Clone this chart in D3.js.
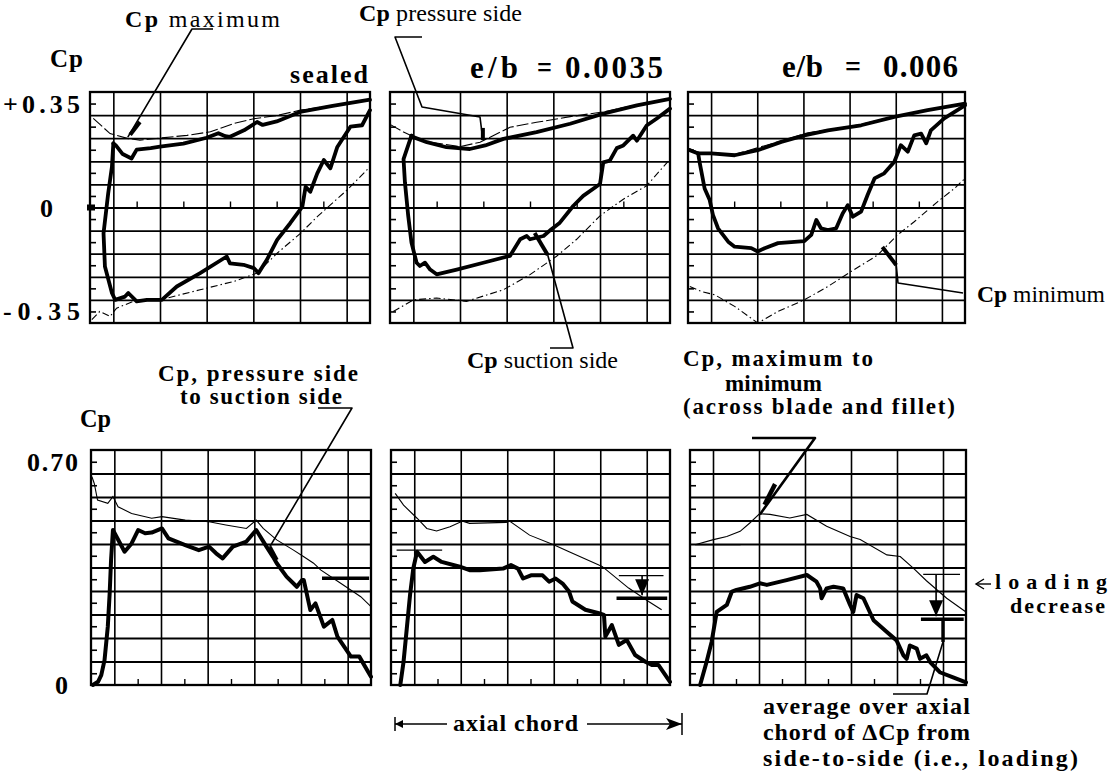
<!DOCTYPE html>
<html>
<head>
<meta charset="utf-8">
<script src="https://cdn.jsdelivr.net/npm/d3@7"></script>
<style>
  body { margin: 0; background: #fff; }
  svg text { font-family: "Liberation Serif", "Times New Roman", Times, "DejaVu Serif", serif; fill: #000; }
</style>
</head>
<body>
<div id="chart"></div>
<script>
// x = position across the frame in grid units (0..6), y = Cp

// ---- top row: Cp on pressure side / suction side, plus max and min envelopes
var sealedPressure = [[0.50,0.216],[0.55,0.21],[0.70,0.18],[0.89,0.165],[1.00,0.195],[1.30,0.2],[1.50,0.205],[2.00,0.215],[2.50,0.235],[2.75,0.25],[2.90,0.24],[3.00,0.238],[3.30,0.26],[3.58,0.288],[3.70,0.278],[4.00,0.29],[4.50,0.322],[5.20,0.342],[6.00,0.363]];
var sealedSuction = [[0.50,0.216],[0.47,0.137],[0.39,0.048],[0.29,-0.087],[0.32,-0.199],[0.47,-0.288],[0.54,-0.311],[0.75,-0.300],[0.82,-0.288],[1.00,-0.316],[1.22,-0.311],[1.54,-0.311],[1.86,-0.266],[2.36,-0.221],[2.93,-0.165],[3.00,-0.188],[3.29,-0.193],[3.51,-0.204],[3.61,-0.221],[3.79,-0.176],[4.01,-0.109],[4.29,-0.053],[4.55,0.003],[4.62,0.07],[4.72,0.053],[4.87,0.115],[5.01,0.16],[5.15,0.132],[5.30,0.204],[5.58,0.272],[5.83,0.277],[6.00,0.328]];
var sealedMax = [[0.07,0.30],[0.43,0.249],[0.82,0.232],[1.07,0.227],[2.08,0.243],[2.58,0.255],[3.08,0.283],[3.51,0.299],[4.01,0.31],[4.51,0.328],[5.23,0.344],[6.00,0.363]];
var sealedMin = [[0.04,-0.378],[0.21,-0.35],[0.43,-0.367],[0.57,-0.339],[0.93,-0.316],[1.65,-0.305],[2.36,-0.277],[3.08,-0.249],[3.58,-0.221],[4.01,-0.154],[4.51,-0.087],[4.87,-0.031],[5.51,0.059],[6.00,0.137]];

var gap1Pressure = [[0.46,0.242],[0.50,0.237],[0.79,0.22],[1.21,0.203],[1.71,0.197],[2.04,0.209],[2.43,0.231],[3.14,0.254],[3.86,0.282],[4.57,0.316],[5.29,0.344],[6.00,0.366]];
var gap1Suction = [[0.46,0.242],[0.29,0.163],[0.32,0.085],[0.39,-0.028],[0.46,-0.118],[0.57,-0.186],[0.64,-0.197],[0.75,-0.186],[0.86,-0.209],[1.00,-0.225],[1.43,-0.209],[2.00,-0.186],[2.57,-0.163],[2.79,-0.107],[2.93,-0.096],[3.00,-0.107],[3.29,-0.096],[3.46,-0.073],[3.64,-0.051],[3.93,0.006],[4.14,0.039],[4.50,0.079],[4.57,0.152],[4.71,0.158],[4.86,0.20],[5.00,0.209],[5.07,0.22],[5.21,0.242],[5.29,0.225],[5.50,0.276],[5.71,0.299],[6.00,0.333]];
var gap1Max = [[0.00,0.28],[0.29,0.254],[0.46,0.242],[0.79,0.222],[1.50,0.205],[1.93,0.22],[2.57,0.27],[3.14,0.287],[3.86,0.306],[4.57,0.322],[5.29,0.346],[6.00,0.368]];
var gap1Min = [[0.07,-0.35],[0.50,-0.311],[1.00,-0.305],[1.64,-0.316],[2.43,-0.277],[3.00,-0.226],[3.57,-0.164],[4.00,-0.107],[4.50,-0.028],[5.00,0.028],[5.50,0.073],[6.00,0.163]];

var gap2Pressure = [[0.04,0.193],[0.22,0.182],[0.50,0.182],[1.01,0.176],[1.51,0.193],[2.02,0.221],[2.52,0.243],[3.03,0.26],[3.75,0.277],[4.47,0.305],[5.19,0.328],[6.00,0.35]];
var gap2Suction = [[0.22,0.182],[0.25,0.154],[0.36,0.064],[0.47,0.025],[0.54,-0.025],[0.65,-0.07],[0.87,-0.115],[1.01,-0.132],[1.37,-0.137],[1.51,-0.148],[1.66,-0.137],[1.95,-0.12],[2.52,-0.113],[2.67,-0.092],[2.78,-0.042],[2.88,-0.07],[3.03,-0.076],[3.21,-0.07],[3.35,-0.02],[3.46,0.008],[3.57,-0.031],[3.75,-0.014],[3.89,0.042],[4.04,0.098],[4.25,0.115],[4.47,0.154],[4.61,0.21],[4.76,0.188],[4.90,0.243],[5.05,0.249],[5.16,0.216],[5.26,0.26],[5.55,0.30],[6.00,0.344]];
var gap2Max = [[0.00,0.2],[0.22,0.186],[1.01,0.179],[2.02,0.224],[2.60,0.252],[3.10,0.263],[3.75,0.28],[4.47,0.307],[6.00,0.352]];
var gap2Min = [[0.04,-0.266],[0.29,-0.283],[0.58,-0.294],[1.01,-0.333],[1.51,-0.389],[1.95,-0.35],[2.52,-0.311],[3.03,-0.266],[3.53,-0.216],[4.11,-0.16],[4.54,-0.092],[4.90,-0.048],[5.41,0.02],[5.77,0.064],[6.00,0.098]];

// ---- bottom row: Cp max-to-min (thin) and pressure-to-suction side (thick)
var sealedRange = [[0.02,0.653],[0.07,0.632],[0.14,0.58],[0.36,0.57],[0.47,0.591],[0.58,0.559],[0.87,0.538],[1.30,0.523],[1.52,0.528],[2.02,0.517],[2.53,0.512],[2.89,0.502],[3.33,0.491],[3.54,0.517],[3.69,0.491],[3.98,0.455],[4.34,0.423],[4.56,0.402],[4.77,0.382],[4.92,0.361],[5.35,0.319],[5.78,0.277],[6.00,0.246]];
var sealedLoading = [[0.04,0.0],[0.15,0.01],[0.22,0.031],[0.29,0.078],[0.36,0.183],[0.40,0.287],[0.43,0.392],[0.47,0.486],[0.72,0.418],[0.87,0.444],[1.01,0.486],[1.16,0.476],[1.30,0.478],[1.52,0.491],[1.66,0.46],[2.02,0.439],[2.31,0.423],[2.53,0.434],[2.68,0.413],[2.82,0.397],[3.04,0.434],[3.33,0.45],[3.54,0.486],[3.76,0.434],[3.90,0.402],[3.98,0.382],[4.19,0.34],[4.41,0.308],[4.52,0.329],[4.56,0.329],[4.70,0.235],[4.81,0.256],[4.99,0.183],[5.17,0.204],[5.28,0.152],[5.57,0.089],[5.75,0.089],[6.00,0.026]];
var gap1Range = [[0.09,0.601],[0.27,0.564],[0.56,0.523],[0.77,0.491],[0.98,0.483],[1.27,0.496],[1.54,0.514],[1.69,0.507],[2.48,0.51],[2.55,0.514],[2.98,0.47],[3.51,0.439],[3.83,0.418],[4.47,0.376],[4.54,0.372],[5.11,0.304],[5.54,0.262],[5.82,0.236]];
var gap1Loading = [[0.20,0.0],[0.27,0.073],[0.34,0.178],[0.41,0.283],[0.48,0.366],[0.56,0.418],[0.73,0.386],[0.91,0.402],[1.09,0.386],[1.48,0.371],[1.69,0.36],[1.91,0.36],[2.41,0.365],[2.58,0.376],[2.73,0.365],[2.84,0.334],[3.01,0.344],[3.26,0.344],[3.40,0.324],[3.54,0.334],[3.69,0.318],[3.83,0.293],[3.90,0.262],[4.18,0.236],[4.47,0.225],[4.58,0.22],[4.61,0.152],[4.75,0.188],[4.90,0.126],[5.07,0.141],[5.25,0.094],[5.47,0.073],[5.61,0.063],[5.75,0.063],[6.00,0.01]];
var gap2Range = [[0.11,0.44],[0.51,0.456],[0.80,0.466],[1.09,0.482],[1.30,0.508],[1.51,0.537],[1.74,0.535],[2.17,0.524],[2.54,0.535],[2.97,0.498],[3.48,0.466],[3.70,0.456],[4.28,0.408],[4.57,0.403],[4.86,0.366],[5.14,0.327],[5.58,0.272],[6.00,0.229]];
var gap2Loading = [[0.22,0.0],[0.36,0.072],[0.47,0.135],[0.58,0.229],[0.69,0.24],[0.80,0.251],[0.91,0.293],[1.01,0.298],[1.30,0.308],[1.52,0.319],[1.67,0.314],[2.10,0.329],[2.54,0.345],[2.75,0.324],[2.83,0.303],[2.86,0.272],[2.97,0.303],[3.12,0.308],[3.33,0.303],[3.48,0.251],[3.55,0.229],[3.62,0.282],[3.77,0.272],[3.99,0.203],[4.28,0.166],[4.49,0.14],[4.64,0.093],[4.71,0.082],[4.78,0.124],[4.93,0.114],[5.00,0.082],[5.14,0.093],[5.22,0.072],[5.43,0.04],[5.72,0.024],[6.00,0.008]];

// average loading over the chord (thick bar) and sealed reference (thin bar)
var averageLoading = [0.335, 0.272, 0.206];
var sealedReference = [null, 0.343, 0.347];
var leadingReference = [null, 0.423, 0.44];

var panelTitles = ["sealed", "0.0035", "0.006"];
var topTickValues = [0.35, 0, -0.35];
var topTickLabels = ["+0.35", "0", "-0.35"];
var bottomTickValues = [0.70, 0];
var bottomTickLabels = ["0.70", "0"];

var topSeries = [
  [sealedPressure, sealedSuction, sealedMax, sealedMin],
  [gap1Pressure, gap1Suction, gap1Max, gap1Min],
  [gap2Pressure, gap2Suction, gap2Max, gap2Min]
];
var bottomSeries = [
  [sealedRange, sealedLoading],
  [gap1Range, gap1Loading],
  [gap2Range, gap2Loading]
];

var svg = d3.select("#chart").append("svg")
  .attr("width", 1109)
  .attr("height", 773);

var topCols = [[90, 370], [390, 670], [688, 965]];
var bottomCols = [[91, 371], [391, 670], [690, 966]];

//builds one gridded frame and returns its scales
function makePanel(cols, yTop, yBottom, domain, zeroTicks) {
  var x = d3.scaleLinear().domain([0, 6]).range(cols);
  var y = d3.scaleLinear().domain(domain).range([yBottom, yTop]);
  var g = svg.append("g");
  var w = cols[1] - cols[0], h = yBottom - yTop;
  var step = (domain[1] - domain[0]) / 10;
  var hLines = d3.range(1, 10).map(i => domain[0] + i * step);
  var mids = d3.range(10).map(i => domain[0] + (i + 0.5) * step);

  var hg = g.append("g")
    .attr("transform", `translate(${cols[0]},0)`)
    .call(d3.axisLeft(y).tickValues(hLines).tickSize(-w).tickFormat(""));
  hg.selectAll("line").attr("stroke", "#000").attr("stroke-width", 1.8);

  var vg = g.append("g")
    .attr("transform", `translate(0,${yBottom})`)
    .call(d3.axisBottom(x).tickValues([0.5, 1.5, 2.5, 3.5, 4.5, 5.5]).tickSize(-h).tickFormat(""));
  vg.selectAll("line").attr("stroke", "#000").attr("stroke-width", 1.6);

  var mg = g.append("g")
    .attr("transform", `translate(${cols[0]},0)`)
    .call(d3.axisLeft(y).tickValues(mids).tickSize(-6).tickFormat(""));
  mg.selectAll("line").attr("stroke", "#000").attr("stroke-width", 1.6);

  var tg = g.append("g")
    .attr("transform", `translate(0,${zeroTicks ? y(0) : yBottom})`)
    .call(d3.axisBottom(x).tickValues([1, 2, 3, 4, 5]).tickSize(-6).tickFormat(""));
  tg.selectAll("line").attr("stroke", "#000").attr("stroke-width", 1.4);

  g.selectAll(".domain").remove();

  g.append("rect")
    .attr("x", cols[0]).attr("y", yTop)
    .attr("width", w).attr("height", h)
    .attr("fill", "none").attr("stroke", "#000").attr("stroke-width", 2.3);

  return { x: x, y: y };
}

var topPanels = topCols.map(c => makePanel(c, 92, 323, [-0.389, 0.389], true));
var bottomPanels = bottomCols.map(c => makePanel(c, 450, 685, [0, 0.737], false));

function lineFor(p) {
  return d3.line().x(d => p.x(d[0])).y(d => p.y(d[1]));
}

//top row curves
topSeries.forEach(function(s, i) {
  var p = topPanels[i], line = lineFor(p);
  svg.append("path").attr("d", line(s[3])).attr("fill", "none")
    .attr("stroke", "#000").attr("stroke-width", 1.1).attr("stroke-dasharray", "7,3,1.5,3");
  svg.append("path").attr("d", line(s[2])).attr("fill", "none")
    .attr("stroke", "#000").attr("stroke-width", 1.1).attr("stroke-dasharray", "12,3");
  [s[0], s[1]].forEach(function(d) {
    svg.append("path").attr("d", line(d)).attr("fill", "none")
      .attr("stroke", "#000").attr("stroke-width", 3.8)
      .attr("stroke-linejoin", "round").attr("stroke-linecap", "round");
  });
});

//bottom row curves
bottomSeries.forEach(function(s, i) {
  var p = bottomPanels[i], line = lineFor(p);
  svg.append("path").attr("d", line(s[0])).attr("fill", "none")
    .attr("stroke", "#000").attr("stroke-width", 1.1);
  svg.append("path").attr("d", line(s[1])).attr("fill", "none")
    .attr("stroke", "#000").attr("stroke-width", 4)
    .attr("stroke-linejoin", "round").attr("stroke-linecap", "round");
});

//little marker at the zero of the first frame
svg.append("rect").attr("x", topCols[0][0] - 3).attr("y", topPanels[0].y(0) - 3)
  .attr("width", 8).attr("height", 6).attr("fill", "#000");

function seg(x1, y1, x2, y2, w) {
  svg.append("line").attr("x1", x1).attr("y1", y1).attr("x2", x2).attr("y2", y2)
    .attr("stroke", "#000").attr("stroke-width", w);
}
function poly(pts, w) {
  svg.append("path").attr("d", d3.line()(pts)).attr("fill", "none")
    .attr("stroke", "#000").attr("stroke-width", w).attr("stroke-linejoin", "round");
}
function downArrow(x, yA, yB) {
  seg(x, yA, x, yB, 1.6);
  svg.append("path").attr("d", `M${x - 7},${yB - 16} L${x + 7},${yB - 16} L${x},${yB} Z`).attr("fill", "#000");
}

//average loading bars in the bottom row
bottomPanels.forEach(function(p, i) {
  if (i === 0) {
    seg(p.x(4.95), p.y(averageLoading[0]), p.x(5.96), p.y(averageLoading[0]), 3.6);
    return;
  }
  var x0 = i === 1 ? 4.9 : 5.07, x1 = i === 1 ? 5.86 : 5.87;
  seg(p.x(x0), p.y(sealedReference[i]), p.x(x1), p.y(sealedReference[i]), 1.4);
  seg(p.x(x0 - 0.05), p.y(averageLoading[i]), p.x(x1 + 0.08), p.y(averageLoading[i]), 3.6);
  downArrow(p.x(i === 1 ? 5.4 : 5.35), p.y(sealedReference[i]), p.y(averageLoading[i]) - 3);
  seg(p.x(0.12), p.y(leadingReference[i]), p.x(1.1), p.y(leadingReference[i]), 1.3);
});

//leader lines
var t1 = topPanels[0], t2 = topPanels[1], t3 = topPanels[2];
var b1 = bottomPanels[0], b3 = bottomPanels[2];
poly([[213, 29], [192, 29], [t1.x(0.81), t1.y(0.237)]], 1.6);
seg(t1.x(1.07), t1.y(0.288), t1.x(0.86), t1.y(0.245), 4);

poly([[422, 37], [395, 37], [422, 107], [480, 117], [t2.x(1.99), t2.y(0.227)]], 1.6);
seg(t2.x(1.99), t2.y(0.268), t2.x(1.99), t2.y(0.227), 4);

poly([[550, 348], [573, 348], [t2.x(3.38), t2.y(-0.16)]], 1.6);
seg(t2.x(3.1), t2.y(-0.086), t2.x(3.38), t2.y(-0.16), 4);

poly([[963, 293], [898, 283], [t3.x(4.51), t3.y(-0.194)]], 1.6);
seg(t3.x(4.21), t3.y(-0.133), t3.x(4.51), t3.y(-0.194), 4);

poly([[318, 408], [352, 408], [b1.x(3.83), b1.y(0.433)]], 1.6);
seg(b1.x(3.83), b1.y(0.433), b1.x(3.98), b1.y(0.392), 4);

poly([[752, 438], [815, 438], [b3.x(1.52), b3.y(0.535)]], 2.6);
seg(b3.x(1.85), b3.y(0.63), b3.x(1.62), b3.y(0.565), 4.5);

seg(b3.x(5.5), b3.y(0.205), b3.x(5.5), b3.y(0.135), 3.4);
poly([[b3.x(5.5), b3.y(0.135)], [927, 694], [893, 694]], 1.6);

//axial chord arrow
seg(395, 717, 395, 731, 1.5);
seg(395, 724, 447, 724, 1.5);
svg.append("path").attr("d", "M395,724 L403,720 L403,728 Z").attr("fill", "#000");
seg(587, 724, 682, 724, 1.5);
svg.append("path").attr("d", "M682,724 L666,718 L670,724 L666,730 Z").attr("fill", "#000");
seg(682, 713, 682, 735, 1.5);

//loading decrease arrow
seg(976, 584, 991, 584, 1.4);
svg.append("path").attr("d", "M984,579 L976,584 L984,589").attr("fill", "none")
  .attr("stroke", "#000").attr("stroke-width", 1.4);

//texts: parts are [string, bold?]; fixed size, fitted to the reference width
function label(x, y, parts, width, size) {
  var t = svg.append("text").attr("x", x).attr("y", y)
    .style("font-size", (size || 23) + "px");
  parts.forEach(function(p) {
    t.append("tspan").text(p[0]).style("font-weight", p[1] ? "bold" : "normal");
  });
  var natural = t.node().getComputedTextLength();
  t.attr("textLength", width)
    .attr("lengthAdjust", natural < width ? "spacing" : "spacingAndGlyphs");
}

label(50, 67, [["Cp", true]], 33, 25);
topTickValues.forEach(function(v, i) {
  var s = topTickLabels[i];
  if (s === "0") label(40, t1.y(v) + 9, [[s, true]], 13, 26);
  else label(3, t1.y(v) + 9, [[s, true]], 77, 26);
});
label(80, 427, [["Cp", true]], 31, 25);
bottomTickValues.forEach(function(v, i) {
  var s = bottomTickLabels[i];
  if (s === "0") label(55, b1.y(v) + 9, [[s, true]], 13, 26);
  else label(27, b1.y(v) + 9, [[s, true]], 51, 26);
});

label(290, 83, [[panelTitles[0], true]], 78, 26);
label(470, 78, [["e/b", true]], 48, 31);
label(537, 78, [["=", true]], 15, 31);
label(565, 78, [[panelTitles[1], true]], 98, 31);
label(782, 77, [["e/b", true]], 41, 31);
label(845, 77, [["=", true]], 16, 31);
label(883, 77, [[panelTitles[2], true]], 75, 31);

label(125, 27, [["Cp ", true], ["maximum", false]], 155, 24);
label(359, 21, [["Cp ", true], ["pressure side", false]], 163, 24);
label(467, 368, [["Cp ", true], ["suction side", false]], 151, 24);
label(977, 302, [["Cp ", true], ["minimum", false]], 128, 24);

label(158, 381, [["Cp,  pressure  side", true]], 200);
label(180, 404, [["to  suction  side", true]], 162);

label(683, 366, [["Cp,  maximum  to", true]], 190);
label(725, 391, [["minimum", true]], 97);
label(683, 414, [["(across  blade  and  fillet)", true]], 272);

label(995, 589, [["loading", true]], 112, 22);
label(1010, 613, [["decrease", true]], 95, 22);

label(453, 731, [["axial  chord", true]], 125, 24);

label(763, 714, [["average  over  axial", true]], 207, 24);
label(763, 740, [["chord  of  \u0394Cp  from", true]], 207, 24);
label(763, 766, [["side-to-side  (i.e.,  loading)", true]], 315, 24);
</script>
</body>
</html>
